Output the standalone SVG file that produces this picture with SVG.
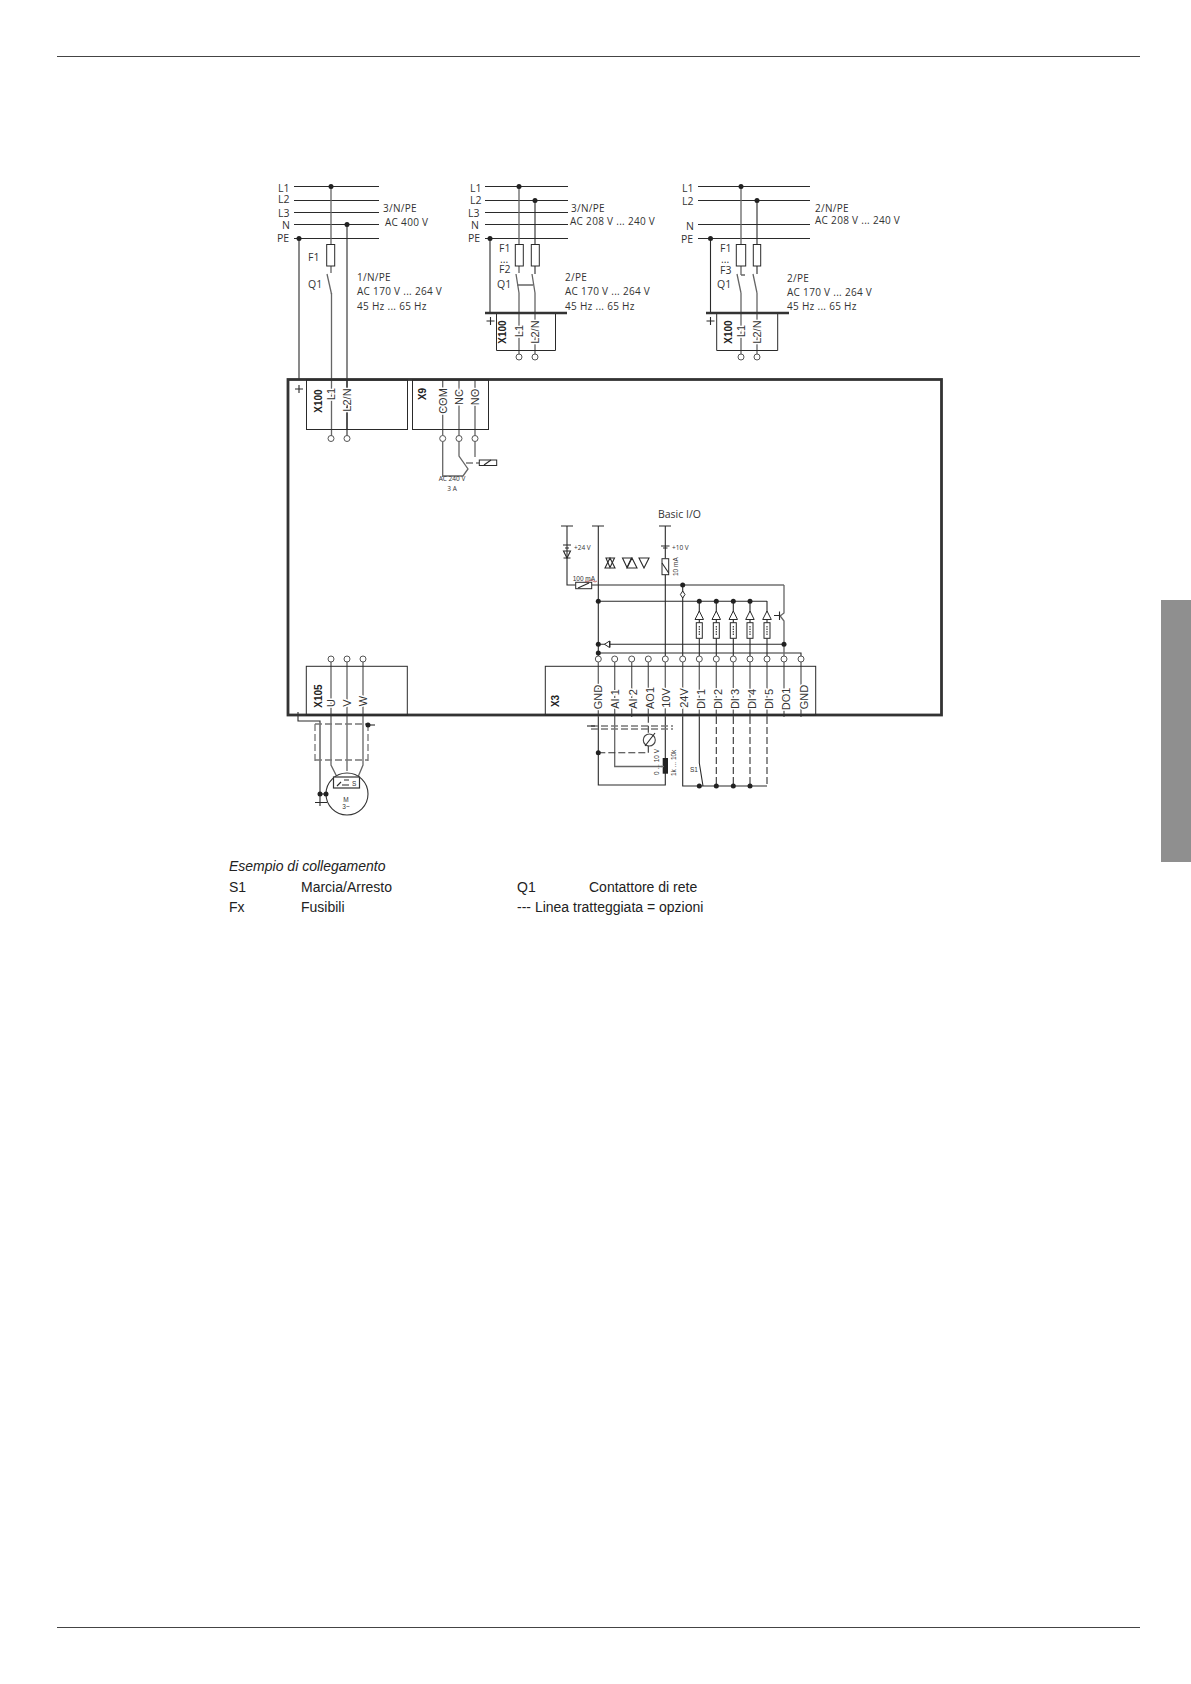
<svg xmlns="http://www.w3.org/2000/svg" width="1191" height="1684" viewBox="0 0 1191 1684">
<defs>
<style>
text{font-family:"Liberation Sans",Arial,sans-serif;fill:#333}
.c{font-family:"Open Sans","Liberation Sans",sans-serif}
.s{font-size:10.5px}
.t{font-size:10px;letter-spacing:.3px}
.v{font-size:11px;text-anchor:middle;stroke:#fff;stroke-width:3px;paint-order:stroke}
.vb{font-size:10px;font-weight:700;text-anchor:middle;fill:#222}
.leg{font-size:14px;font-family:"Liberation Sans",sans-serif;fill:#222}
.tiny{font-size:6.5px}
.l{fill:none;stroke:#2a2a2a;stroke-width:1.1}
.g{fill:none;stroke:#666;stroke-width:1.3}
.d{fill:none;stroke:#333;stroke-width:1.1;stroke-dasharray:7 3}
.gd{fill:none;stroke:#777;stroke-width:1.3;stroke-dasharray:7 3}
.b{fill:#fff;stroke:#2a2a2a;stroke-width:1}
.bx{fill:none;stroke:#2a2a2a;stroke-width:1}
.o{fill:#fff;stroke:#555;stroke-width:1}
.j{fill:#222}
.bar{fill:none;stroke:#333;stroke-width:2.6}
</style>
<circle id="o" r="3" class="o"/>
<circle id="j" r="2.5" class="j"/>
<g id="gnd"><path class="l" d="M-4 0H4M0 -4V4"/></g>
</defs>
<rect width="1191" height="1684" fill="#fff"/>
<g id="page">
<path d="M57 56.500H1140M57 1627.500H1140" stroke="#444" stroke-width="1" fill="none"/>
<rect x="1161" y="600" width="30" height="262" fill="#8f8f8f"/>
</g>
<g id="connectors">
<!-- supply 1 -->
<path class="l" d="M294 186.500H379M294 200.500H379M294 212.500H379M294 224.500H379M294 238.500H379"/>
<path class="l" d="M299 238V380M347 225V429"/>
<path class="g" d="M331 187V244M331 266V273M331.500 293V438"/>
<path class="g" d="M327 274L331.500 294"/>
<path class="l" d="M347 380V438"/>
<!-- supply 2 -->
<path class="l" d="M485 186.500H568M485 200.500H568M485 212.500H568M485 224.500H568M485 238.500H568"/>
<path class="l" d="M490 238V313M535 200V244M535 266V274"/>
<path class="g" d="M519 187V244M519 266V273M519 293V354M535 293V354M516 274L519 293M532 274L535 293M517 285H533"/>
<!-- supply 3 -->
<path class="l" d="M698 186.500H810M698 200.500H810M698 224.500H810M698 238.500H810"/>
<path class="l" d="M710.500 238V313M757 200V244M757 266V274"/>
<path class="g" d="M741 187V244M741 266V275M741 293V354M757 293V354M737 274L741 293M753 274L757 293M741 275H745"/>
<!-- relay -->
<path class="g" d="M442.700 380V435.500M442.700 441.500V477M459 380V435.500M459 441.500V456L468 469L463 476H442.700M475 380V435.500M475 441.500V457"/>
<path class="d" d="M466 463H479" stroke-dasharray="3 2"/>
<!-- motor -->
<path class="g" d="M331 662V765L337 777M347 662V771M363 662V765L358 777"/>
<path class="l" d="M298 712V721H320V796M320 794H326"/>
<path class="gd" d="M315 724H368M315 760H368M315 724V763M368 724V763"/>
<path class="l" d="M368 725H375"/>
<!-- X3 upper -->
<path class="l" d="M567 526V585H575.500M591.700 585H784M598.300 526V656M665.300 526V558.500M665.300 574.500V656M682.700 585V656M598.300 601.300H767M598.300 644.300H784M598.300 653H801V656"/>
<path class="g" d="M784 585V613L779.500 616.500M779.500 615L784 621V656"/>
<path class="l" d="M561 526H573M592 526H604M659 526H671"/>
<path class="l" d="M779.500 611.500V620M774 615.500H779.500"/>
<path class="l" d="M699.300 601V656M716.300 601V656M733.300 601V656M750 601V656M767 601V656"/>
<!-- X3 lower -->
<path class="g" d="M614.700 662V766.500H662M631.700 662V717M648.300 662V717M665.300 662V717M716.300 662V717M733.300 662V717M750 662V717M767 662V717M784 662V717M801 662V717"/>
<path class="g" d="M598.300 662V717M682.700 662V717M699.300 662V717"/>
<path class="l" d="M598.300 717V785H665.300V717M682.700 717V786H767M699.300 717V763L703 786"/>
<path class="d" d="M598.300 752.700H648.300V717M716.300 717V786M733.300 717V786M750 717V786M767 717V786"/>
<path class="gd" d="M591 726H673M591 729H673"/>
<path class="l" d="M587 726H595"/>
</g>
<g id="n-grid1">
<rect class="b" x="326.700" y="244.500" width="8" height="21.500"/>
<use href="#j" x="331" y="186.500"/><use href="#j" x="347" y="224.500"/><use href="#j" x="299" y="238.500"/>
<text class="c s" x="278" y="192">L1</text><text class="c s" x="278" y="203">L2</text><text class="c s" x="278" y="217">L3</text><text class="c s" x="282" y="229">N</text><text class="c s" x="277" y="242">PE</text>
<text class="c s" x="308" y="261">F1</text><text class="c s" x="308" y="288">Q1</text>
<text class="c t" x="383" y="212">3/N/PE</text><text class="c t" x="385" y="226">AC 400 V</text>
<text class="c t" x="357" y="281">1/N/PE</text><text class="c t" x="357" y="295">AC 170 V ... 264 V</text><text class="c t" x="357" y="310">45 Hz ... 65 Hz</text>
</g>
<g id="n-grid2">
<rect class="b" x="515.300" y="244.500" width="8" height="21.500"/><rect class="b" x="531.300" y="244.500" width="8" height="21.500"/>
<use href="#j" x="519" y="186.500"/><use href="#j" x="535" y="200.500"/><use href="#j" x="490" y="238.500"/>
<text class="c s" x="470" y="192">L1</text><text class="c s" x="470" y="204">L2</text><text class="c s" x="468" y="217">L3</text><text class="c s" x="471" y="229">N</text><text class="c s" x="468" y="242">PE</text>
<text class="c s" x="499" y="252">F1</text><text class="c s" x="500" y="263">...</text><text class="c s" x="499" y="273">F2</text><text class="c s" x="497" y="288">Q1</text>
<text class="c t" x="571" y="212">3/N/PE</text><text class="c t" x="570" y="225">AC 208 V ... 240 V</text>
<text class="c t" x="565" y="281">2/PE</text><text class="c t" x="565" y="295">AC 170 V ... 264 V</text><text class="c t" x="565" y="310">45 Hz ... 65 Hz</text>
</g>
<g id="n-x100b">
<path class="bx" d="M496.500 313V350.500H555.500V313"/><path class="bar" d="M485 313H567"/><use href="#gnd" x="490.500" y="321"/>
<use href="#o" x="519" y="357"/><use href="#o" x="535" y="357"/>
<text class="vb" transform="translate(506,332) rotate(-90)">X100</text>
<text class="v" transform="translate(523,331) rotate(-90)">L1</text><text class="v" transform="translate(539,332) rotate(-90)">L2/N</text>
</g>
<g id="n-grid3">
<rect class="b" x="736.300" y="244.500" width="9.400" height="21.500"/><rect class="b" x="753.300" y="244.500" width="7.400" height="21.500"/>
<use href="#j" x="741" y="186.500"/><use href="#j" x="757" y="200.500"/><use href="#j" x="710.500" y="238.500"/>
<text class="c s" x="682" y="192">L1</text><text class="c s" x="682" y="205">L2</text><text class="c s" x="686" y="230">N</text><text class="c s" x="681" y="243">PE</text>
<text class="c s" x="720" y="252">F1</text><text class="c s" x="721" y="263">...</text><text class="c s" x="720" y="274">F3</text><text class="c s" x="717" y="288">Q1</text>
<text class="c t" x="815" y="212">2/N/PE</text><text class="c t" x="815" y="224">AC 208 V ... 240 V</text>
<text class="c t" x="787" y="282">2/PE</text><text class="c t" x="787" y="296">AC 170 V ... 264 V</text><text class="c t" x="787" y="310">45 Hz ... 65 Hz</text>
</g>
<g id="n-x100c">
<path class="bx" d="M716.700 313V350.500H777.700V313"/><path class="bar" d="M706 313H789"/><use href="#gnd" x="710.500" y="321"/>
<use href="#o" x="741" y="357"/><use href="#o" x="757" y="357"/>
<text class="vb" transform="translate(732,332) rotate(-90)">X100</text>
<text class="v" transform="translate(745,331) rotate(-90)">L1</text><text class="v" transform="translate(761,332) rotate(-90)">L2/N</text>
</g>
<g id="n-drive">
<rect x="288" y="379.500" width="653.500" height="335.500" fill="none" stroke="#333" stroke-width="2.800"/>
<use href="#gnd" x="299" y="389"/>
</g>
<g id="n-x100a">
<rect class="bx" x="306.500" y="380" width="101" height="49.500"/>
<use href="#o" x="331" y="438.500"/><use href="#o" x="347" y="438.500"/>
<text class="vb" transform="translate(322,401) rotate(-90)">X100</text>
<text class="v" transform="translate(335,394) rotate(-90)">L1</text><text class="v" transform="translate(351,400) rotate(-90)">L2/N</text>
</g>
<g id="n-x9">
<rect class="bx" x="412.500" y="380" width="76" height="49.500"/>
<use href="#o" x="442.700" y="438.500"/><use href="#o" x="459" y="438.500"/><use href="#o" x="475" y="438.500"/>
<text class="vb" transform="translate(426,394) rotate(-90)">X9</text>
<text class="v" transform="translate(447,401) rotate(-90)">COM</text><text class="v" transform="translate(463,397) rotate(-90)">NC</text><text class="v" transform="translate(479,397) rotate(-90)">NO</text>
<rect class="b" x="479.300" y="460" width="17.400" height="5.500"/><path class="l" d="M484 465L491 460"/>
<text class="c tiny" x="452" y="481" text-anchor="middle">AC 240 V</text><text class="c tiny" x="452" y="491" text-anchor="middle">3 A</text>
</g>
<g id="n-x105">
<rect class="bx" x="306.300" y="666.300" width="101" height="49"/>
<use href="#o" x="331" y="659"/><use href="#o" x="347" y="659"/><use href="#o" x="363" y="659"/>
<text class="vb" transform="translate(322,696) rotate(-90)">X105</text>
<text class="v" transform="translate(335,703) rotate(-90)">U</text><text class="v" transform="translate(351,703) rotate(-90)">V</text><text class="v" transform="translate(367,701) rotate(-90)">W</text>
</g>
<g id="n-motor">
<circle cx="347" cy="794" r="21" fill="#fff" stroke="#333" stroke-width="1.100"/>
<rect x="333.500" y="777" width="26" height="11" fill="#fff" stroke="#333" stroke-width="1.200"/>
<path class="l" d="M337 786L341 782M342 785H349M344 780H349"/><text class="tiny" x="352" y="786">S</text>
<text class="tiny" x="346" y="802" text-anchor="middle">M</text><text class="tiny" x="346" y="809" text-anchor="middle">3~</text>
<use href="#j" x="320" y="794"/><use href="#j" x="326" y="794"/><use href="#j" x="368" y="725"/>
<path class="l" d="M315 802.500H327M320 796V806"/>
</g>
<g id="n-x3">
<rect class="bx" x="545.300" y="666.300" width="270.400" height="49"/>
<g id="x3-pins">
<use href="#o" x="598.300" y="659"/><use href="#o" x="614.700" y="659"/><use href="#o" x="631.700" y="659"/><use href="#o" x="648.300" y="659"/><use href="#o" x="665.300" y="659"/><use href="#o" x="682.700" y="659"/><use href="#o" x="699.300" y="659"/><use href="#o" x="716.300" y="659"/><use href="#o" x="733.300" y="659"/><use href="#o" x="750" y="659"/><use href="#o" x="767" y="659"/><use href="#o" x="784" y="659"/><use href="#o" x="801" y="659"/>
</g>
<text class="vb" transform="translate(559,701) rotate(-90)">X3</text>
<text class="v" transform="translate(602,697) rotate(-90)">GND</text><text class="v" transform="translate(619,699) rotate(-90)">AI 1</text><text class="v" transform="translate(637,699) rotate(-90)">AI 2</text><text class="v" transform="translate(654,698) rotate(-90)">AO1</text><text class="v" transform="translate(670,698) rotate(-90)">10V</text><text class="v" transform="translate(688,698) rotate(-90)">24V</text><text class="v" transform="translate(705,699) rotate(-90)">DI 1</text><text class="v" transform="translate(722,699) rotate(-90)">DI 2</text><text class="v" transform="translate(739,699) rotate(-90)">DI 3</text><text class="v" transform="translate(756,699) rotate(-90)">DI 4</text><text class="v" transform="translate(773,699) rotate(-90)">DI 5</text><text class="v" transform="translate(790,699) rotate(-90)">DO1</text><text class="v" transform="translate(808,697) rotate(-90)">GND</text>
</g>
<g id="n-io">
<text class="c s" x="658" y="518">Basic I/O</text>
<text class="c tiny" x="574" y="550">+24 V</text><text class="c tiny" x="672" y="550">+10 V</text>
<path class="l" d="M563 545H571M565 548H569M563.500 551H570.500L567 558ZM563.500 558H570.500M661 546H669.500M663 548H667.500"/>
<path class="l" d="M610 567.500L614.500 558H606ZM627 567.500L631.500 558H622.500Z" transform="translate(0,0)"/>
<path class="l" d="M610 558L615 568H605ZM632 558L637 568H627ZM644 568L649 558H639Z" stroke="#444"/>
<rect class="b" x="662" y="558.700" width="6.700" height="16"/><path class="l" d="M662 563L668.700 573"/>
<text class="tiny" transform="translate(678,576) rotate(-90)">10 mA</text>
<rect class="b" x="575.700" y="582.300" width="16" height="6.400"/><path class="l" d="M578 588L589 583"/>
<text class="tiny" x="572.700" y="581">100 mA</text>
<path d="M585 581Q587 583 589 581T593 581T597 581" fill="none" stroke="#a33" stroke-width=".7"/>
<use href="#j" x="682.700" y="585"/><use href="#j" x="598.300" y="601.300"/><use href="#j" x="699.300" y="601.300"/><use href="#j" x="716.300" y="601.300"/><use href="#j" x="733.300" y="601.300"/><use href="#j" x="750" y="601.300"/><use href="#j" x="598.300" y="644.300"/><use href="#j" x="784" y="644.300"/><use href="#j" x="598.300" y="653"/>
<path class="b" d="M682.700 591L685 594.500L682.700 598L680.400 594.500Z"/>
<path class="b" d="M699.300 611L695 619.500H703.500ZM716.300 611L712 619.500H720.500ZM733.300 611L729 619.500H737.500ZM750 611L745.700 619.500H754.200ZM767 611L762.700 619.500H771.300Z"/>
<rect class="b" x="696.300" y="622.700" width="6" height="15.600"/><rect class="b" x="713.300" y="622.700" width="6" height="15.600"/><rect class="b" x="730.300" y="622.700" width="6" height="15.600"/><rect class="b" x="747" y="622.700" width="6" height="15.600"/><rect class="b" x="764" y="622.700" width="6" height="15.600"/>
<path class="l" d="M699.300 626V635M716.300 626V635M733.300 626V635M750 626V635M767 626V635" stroke-dasharray="1.500 1"/>
<path class="b" d="M604.500 644.300L609.500 641V647.500ZM610 641V647.500"/>
</g>
<g id="n-field">
<circle cx="649.300" cy="740" r="6" fill="#fff" stroke="#444" stroke-width="1.100"/><path class="l" d="M645 746L655 733"/>
<rect x="662.700" y="758" width="5.300" height="15.700" fill="#222"/><path class="g" d="M661 766.500L664 766.500"/>
<text class="tiny" transform="translate(659,775) rotate(-90)">0 ... 10 V</text><text class="tiny" transform="translate(676,776) rotate(-90)">1k ... 10k</text>
<text class="tiny" x="690" y="772">S1</text>
<use href="#j" x="598.300" y="752.700"/><use href="#j" x="699.300" y="786"/><use href="#j" x="716.300" y="786"/><use href="#j" x="733.300" y="786"/><use href="#j" x="750" y="786"/>
</g>
<g id="n-legend">
<text class="leg" x="229" y="871" font-style="italic">Esempio di collegamento</text>
<text class="leg" x="229" y="892">S1</text><text class="leg" x="301" y="892">Marcia/Arresto</text><text class="leg" x="517" y="892">Q1</text><text class="leg" x="589" y="892">Contattore di rete</text>
<text class="leg" x="229" y="912">Fx</text><text class="leg" x="301" y="912">Fusibili</text><text class="leg" x="517" y="912">--- Linea tratteggiata = opzioni</text>
</g>
</svg>
